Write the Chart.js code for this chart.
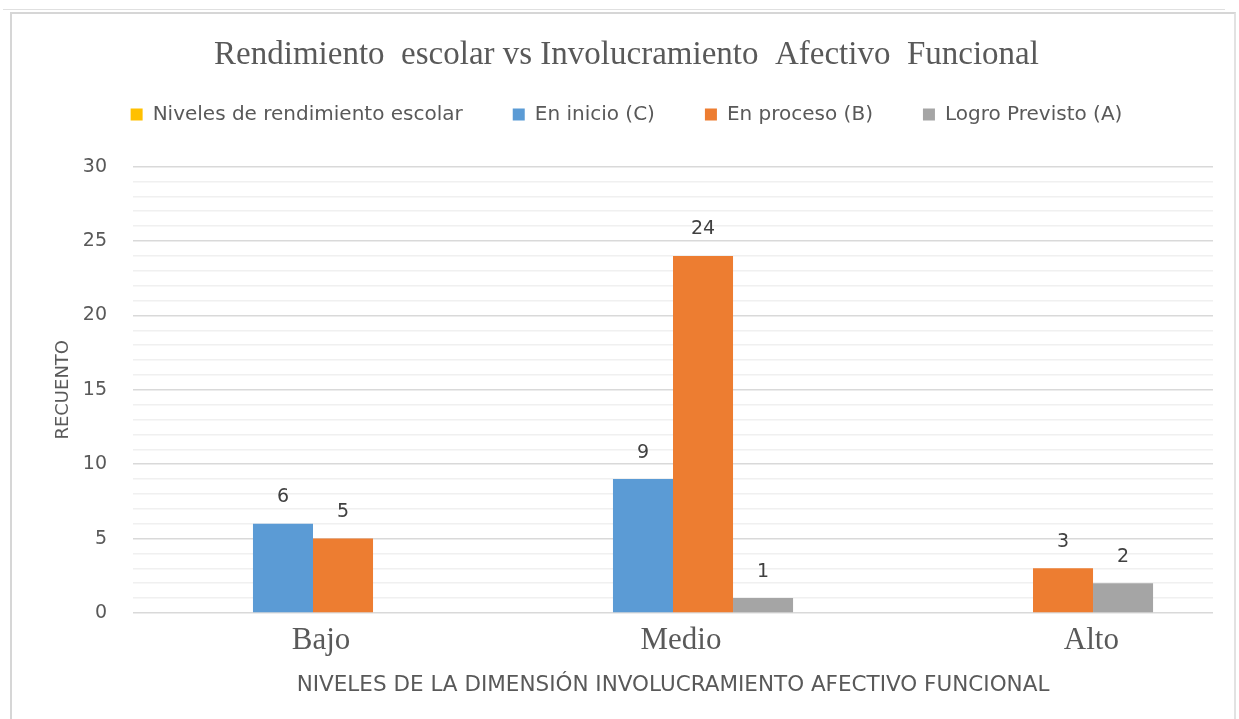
<!DOCTYPE html>
<html>
<head>
<meta charset="utf-8">
<script src="https://cdn.jsdelivr.net/npm/chart.js@4/dist/chart.umd.min.js"></script>
<style>
    html, body { margin: 0; padding: 0; background: #fff; }
    #wrap { position: relative; width: 1239px; height: 719px; }
    #frame { position: absolute; left: 10px; top: 12px; width: 1222px; height: 720px;
             border-top: 2px solid #d6d6d6; border-left: 2px solid #d6d6d6; border-right: 2px solid #e2e2e2; }
    #topline { position: absolute; left: 3px; top: 9px; width: 1222px; border-top: 1px solid #e0e0e0; }
</style>
</head>
<body>
<div id="wrap">
    <div id="topline"></div>
    <div id="frame"></div>
    <canvas id="chart" width="1239" height="719"></canvas>
</div>
<script>
const categories = ['Bajo', 'Medio', 'Alto'];
const seriesNames = ['Niveles de rendimiento escolar', 'En inicio (C)', 'En proceso (B)', 'Logro Previsto (A)'];
const nivelesValues = [null, null, null];
const enInicioValues = [6, 9, null];
const enProcesoValues = [5, 24, 3];
const logroValues = [null, 1, 2];
const yTicks = [0, 5, 10, 15, 20, 25, 30];

const textColor = '#595959';
const sansFont = "'DejaVu Sans', sans-serif";
const serifFont = "'Liberation Serif', 'Times New Roman', serif";

// etiquetas de valor encima de cada barra
const valueLabels = {
    id: 'valueLabels',
    afterDatasetsDraw(chart) {
        const ctx = chart.ctx;
        ctx.save();
        ctx.font = `19px ${sansFont}`;
        ctx.fillStyle = '#404040';
        ctx.textAlign = 'center';
        ctx.textBaseline = 'bottom';
        chart.data.datasets.forEach((ds, i) => {
            const meta = chart.getDatasetMeta(i);
            meta.data.forEach((bar, j) => {
                const v = ds.data[j];
                if (v == null) return;
                ctx.fillText(String(v), bar.x, bar.y - 17);
            });
        });
        ctx.restore();
    }
};

// espacio extra debajo de la leyenda
const legendMargin = {
    id: 'legendMargin',
    beforeInit(chart) {
        const fit = chart.legend.fit;
        chart.legend.fit = function () {
            fit.call(this);
            this.height += 32;
        };
    }
};

new Chart(document.getElementById('chart'), {
    type: 'bar',
    data: {
        labels: categories,
        datasets: [
            { label: seriesNames[0], data: nivelesValues, backgroundColor: '#FFC000' },
            { label: seriesNames[1], data: enInicioValues, backgroundColor: '#5B9BD5' },
            { label: seriesNames[2], data: enProcesoValues, backgroundColor: '#ED7D31' },
            { label: seriesNames[3], data: logroValues, backgroundColor: '#A5A5A5' }
        ]
    },
    options: {
        responsive: false,
        animation: false,
        layout: { padding: { left: 40, right: 26, top: 14, bottom: 0 } },
        datasets: { bar: { categoryPercentage: 0.667, barPercentage: 1.0 } },
        plugins: {
            title: {
                display: true,
                text: 'Rendimiento  escolar vs Involucramiento  Afectivo  Funcional',
                color: textColor,
                font: { family: serifFont, size: 33, weight: 'normal' },
                padding: { top: 22, bottom: -21 }
            },
            legend: {
                position: 'top',
                labels: {
                    color: textColor,
                    font: { family: sansFont, size: 20 },
                    boxWidth: 12,
                    boxHeight: 12,
                    padding: 50
                }
            },
            tooltip: { enabled: false }
        },
        scales: {
            x: {
                grid: { display: false },
                border: { display: false },
                ticks: {
                    color: textColor,
                    font: { family: serifFont, size: 31 },
                    labelOffset: 8,
                    padding: 1,
                    callback: function (value, index) {
                        const lbl = categories[index];
                        return index === 2 ? ' '.repeat(13) + lbl : lbl;
                    }
                },
                title: {
                    display: true,
                    text: 'NIVELES DE LA DIMENSIÓN INVOLUCRAMIENTO AFECTIVO FUNCIONAL',
                    color: textColor,
                    font: { family: sansFont, size: 21.5 },
                    padding: { top: 4, bottom: 21 }
                },
                afterFit: (scale) => { scale.height = 106; }
            },
            y: {
                min: 0,
                max: 30,
                border: { display: false },
                grid: {
                    color: (c) => (c.tick && c.tick.value % 5 === 0) ? '#d9d9d9' : '#f0f0f0',
                    lineWidth: 1.5,
                    drawTicks: false
                },
                ticks: {
                    stepSize: 1,
                    autoSkip: false,
                    color: textColor,
                    font: { family: sansFont, size: 19 },
                    padding: 26,
                    callback: (v) => yTicks.includes(v) ? String(v) : ''
                },
                title: {
                    display: true,
                    text: 'RECUENTO',
                    color: textColor,
                    font: { family: sansFont, size: 18 },
                    padding: { top: 13, bottom: 0 }
                },
                afterFit: (scale) => { scale.width = 93; }
            }
        }
    },
    plugins: [valueLabels, legendMargin]
});
</script>
</body>
</html>
